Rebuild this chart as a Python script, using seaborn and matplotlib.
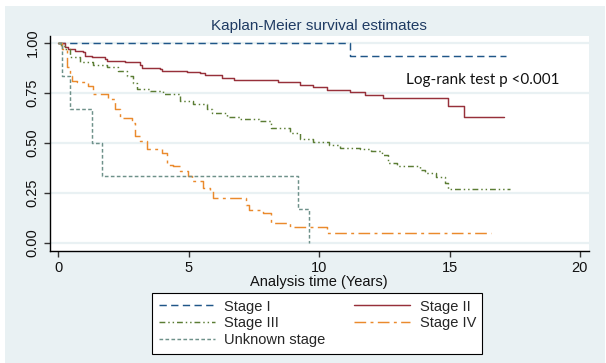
import numpy as np
import pandas as pd
import seaborn as sns
import matplotlib.pyplot as plt
from matplotlib.patches import Rectangle

# Kaplan-Meier step curves (time in years, survival)
stage1_t = [0, 11.18, 17.18]
stage1_s = [1.0, 0.935, 0.935]

stage2_t = [0, 0.25, 0.38, 0.64, 0.96, 1.02, 1.28, 1.79, 1.85, 2.55, 3.13, 3.19,
            3.9, 3.96, 4.92, 5.43, 5.62, 6.26, 6.73, 8.44, 9.25, 9.77, 10.29,
            11.18, 11.77, 12.44, 14.96, 15.55, 17.1]
stage2_s = [1.0, 0.977, 0.968, 0.960, 0.952, 0.935, 0.927, 0.918, 0.906, 0.901,
            0.889, 0.873, 0.868, 0.859, 0.851, 0.846, 0.838, 0.821, 0.815, 0.804,
            0.787, 0.776, 0.764, 0.751, 0.737, 0.724, 0.683, 0.630, 0.630]

stage3_t = [0, 0.1, 0.25, 0.44, 0.83, 1.34, 1.85, 2.3, 2.62, 2.88, 3.0, 3.51,
            4.02, 4.66, 5.17, 5.69, 5.91, 6.46, 6.97, 7.69, 8.14, 8.88, 9.25,
            9.77, 10.36, 10.81, 11.57, 12.0, 12.4, 12.65, 12.98, 13.87, 14.07,
            14.5, 14.81, 14.96, 17.33]
stage3_s = [1.0, 0.985, 0.968, 0.927, 0.901, 0.889, 0.876, 0.860, 0.834, 0.80,
            0.767, 0.756, 0.742, 0.709, 0.692, 0.667, 0.650, 0.630, 0.617, 0.608,
            0.575, 0.55, 0.52, 0.503, 0.486, 0.474, 0.466, 0.457, 0.44, 0.40,
            0.382, 0.365, 0.349, 0.33, 0.30, 0.268, 0.268]

stage4_t = [0, 0.13, 0.32, 0.44, 0.51, 0.70, 1.15, 1.34, 1.91, 2.17, 2.36, 2.81,
            2.94, 3.13, 3.39, 3.96, 4.15, 4.41, 4.66, 4.98, 5.11, 5.56, 5.82,
            5.94, 7.18, 7.32, 7.84, 8.14, 8.88, 10.29, 16.59]
stage4_s = [1.0, 0.968, 0.876, 0.834, 0.809, 0.804, 0.784, 0.742, 0.717, 0.667,
            0.625, 0.597, 0.533, 0.508, 0.466, 0.449, 0.39, 0.382, 0.357, 0.332,
            0.307, 0.273, 0.256, 0.223, 0.19, 0.164, 0.148, 0.097, 0.080, 0.050,
            0.050]

unknown_t = [0, 0.13, 0.44, 1.28, 1.69, 9.18, 9.62]
unknown_s = [1.0, 0.833, 0.667, 0.5, 0.333, 0.167, 0.0]

labels = ['Stage I', 'Stage II', 'Stage III', 'Stage IV', 'Unknown stage']
colors = ['#1f5688', '#97303a', '#5b7d34', '#ea8a2c', '#6e918a']
styles = [(0, (5, 3)), '-', (0, (4, 2, 1, 2, 1, 2)), (0, (8, 3, 2, 3)), (0, (2.5, 1.6))]
curves = [(stage1_t, stage1_s), (stage2_t, stage2_s), (stage3_t, stage3_s),
          (stage4_t, stage4_s), (unknown_t, unknown_s)]

bg = '#e9f1f3'
sns.set_style('white')
plt.rcParams['font.family'] = ['Liberation Sans', 'DejaVu Sans']

fig = plt.figure(figsize=(6.06, 3.63), dpi=100, facecolor='white')
fig.patches.append(Rectangle((5 / 606, 0), 600 / 606, 357 / 363,
                             transform=fig.transFigure, facecolor=bg,
                             edgecolor='none', zorder=-10))
ax = fig.add_axes([49.5 / 606, 1 - 251 / 363, 539 / 606, 215.5 / 363])
ax.set_facecolor('white')

handles = {}
for lab, col, ls, (t, s) in zip(labels, colors, styles, curves):
    df = pd.DataFrame({'time': t, 'surv': s})
    sns.lineplot(data=df, x='time', y='surv', ax=ax, drawstyle='steps-post',
                 estimator=None, sort=False, color=col, linestyle=ls,
                 linewidth=1.05, label=lab)
    handles[lab] = ax.lines[-1]
ax.get_legend().remove()

ax.set_xlim(-0.34, 20.33)
ax.set_ylim(-0.042, 1.035)
ax.set_xticks([0, 5, 10, 15, 20])
ax.set_yticks([0, 0.25, 0.5, 0.75, 1.0])
ax.set_yticklabels(['%.2f' % v for v in [0, 0.25, 0.5, 0.75, 1.0]],
                   rotation=90, va='center')
ax.yaxis.grid(True, color=bg, linewidth=1.6)
ax.xaxis.grid(False)
ax.set_axisbelow(True)
for sp in ['top', 'right']:
    ax.spines[sp].set_visible(False)
for sp in ['left', 'bottom']:
    ax.spines[sp].set_color('black')
    ax.spines[sp].set_linewidth(1.0)
ax.tick_params(axis='both', direction='out', length=4, width=1, color='#333333',
               labelsize=10.5, labelcolor='#111111', pad=3, left=True, bottom=True)

ax.set_xlabel('Analysis time (Years)', fontsize=10.5, labelpad=0, color='#111111')
ax.set_ylabel('')
ax.set_title('Kaplan-Meier survival estimates', fontsize=11, color='#1f3b63', pad=4)

ax.text(13.33, 0.812, 'Log-rank test p <0.001', fontsize=11, family='Lato',
        va='center', ha='left', color='#111111')

order = ['Stage I', 'Stage III', 'Unknown stage', 'Stage II', 'Stage IV']
leg = fig.legend([handles[k] for k in order], order, ncol=2, loc='upper left',
                 bbox_to_anchor=(152 / 606, 1 - 293 / 363), fontsize=10.5,
                 frameon=True, fancybox=False, edgecolor='black', framealpha=1,
                 handlelength=3.85, handletextpad=0.65, columnspacing=1.95,
                 labelspacing=0.2, borderpad=0.45, borderaxespad=0)
leg.get_frame().set_linewidth(0.8)

fig.savefig('out.png', dpi=100, facecolor='white')
